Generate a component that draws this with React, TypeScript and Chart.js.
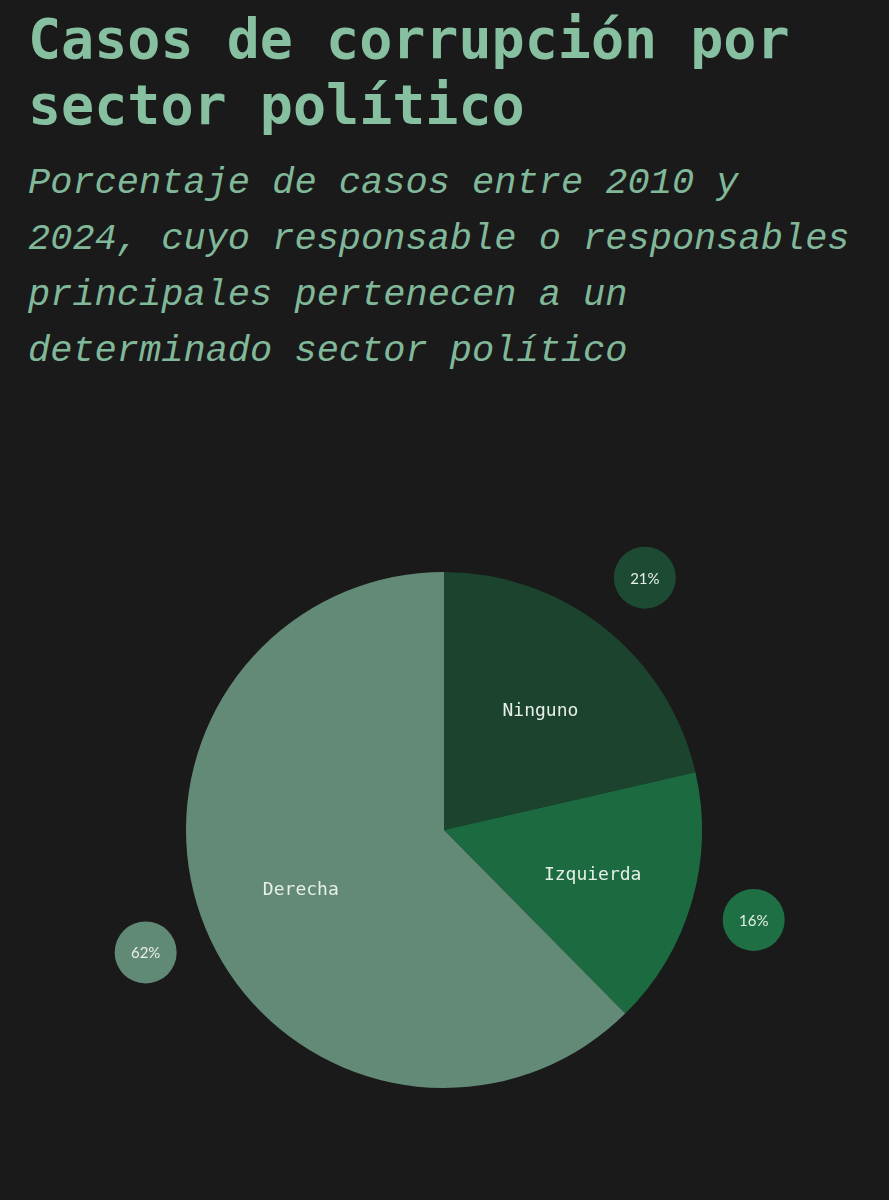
import React, { useEffect, useRef } from "react";
import { Chart, registerables } from "chart.js";

Chart.register(...registerables);

const categories = ["Ninguno", "Izquierda", "Derecha"];
const values = [21.4, 16.2, 62.4];
const sliceColors = ["#1c432e", "#1c6a40", "#628a77"];
const bubbleColors = ["#1c4a33", "#1e7044", "#618a76"];

const BG = "#1a1a1a";
const TITLE_COLOR = "#86c0a0";

const labelPlugin = {
  id: "sliceLabels",
  afterDatasetsDraw(chart: any) {
    const ctx = chart.ctx;
    const meta = chart.getDatasetMeta(0);
    meta.data.forEach((arc: any, i: number) => {
      const { x, y, startAngle, endAngle, outerRadius } = arc.getProps(
        ["x", "y", "startAngle", "endAngle", "outerRadius"],
        true
      );
      const mid = (startAngle + endAngle) / 2;
      const lx = x + Math.cos(mid) * outerRadius * 0.6;
      const ly = y + Math.sin(mid) * outerRadius * 0.6;
      ctx.save();
      ctx.fillStyle = "#e6efe8";
      ctx.font = "18px 'DejaVu Sans Mono', monospace";
      ctx.textAlign = "center";
      ctx.textBaseline = "middle";
      ctx.fillText(categories[i], lx, ly + 2);
      const bx = x + Math.cos(mid) * outerRadius * 1.25;
      const by = y + Math.sin(mid) * outerRadius * 1.25;
      ctx.beginPath();
      ctx.arc(bx, by, 31, 0, Math.PI * 2);
      ctx.fillStyle = bubbleColors[i];
      ctx.fill();
      ctx.fillStyle = "#e6efe8";
      ctx.font = "15px Lato, 'Noto Sans', sans-serif";
      ctx.fillText(Math.round(values[i]) + "%", bx, by + 1);
      ctx.restore();
    });
  },
};

export default function App() {
  const canvasRef = useRef<HTMLCanvasElement | null>(null);

  useEffect(() => {
    document.body.style.margin = "0";
    document.body.style.background = BG;
    const chart = new Chart(canvasRef.current as HTMLCanvasElement, {
      type: "pie",
      data: {
        labels: categories,
        datasets: [
          {
            data: values,
            backgroundColor: sliceColors,
            borderWidth: 0,
          },
        ],
      },
      options: {
        animation: false,
        responsive: false,
        maintainAspectRatio: false,
        layout: { padding: { left: 186, right: 187, top: 132, bottom: 112 } },
        plugins: {
          legend: { display: false },
          tooltip: { enabled: false },
        },
      },
      plugins: [labelPlugin],
    });
    return () => chart.destroy();
  }, []);

  return (
    <div
      style={{
        position: "relative",
        width: 889,
        height: 1200,
        background: BG,
        overflow: "hidden",
      }}
    >
      <div
        style={{
          position: "absolute",
          left: 28,
          top: 6,
          fontFamily: "'DejaVu Sans Mono', monospace",
          fontWeight: "bold",
          fontSize: 55,
          lineHeight: "66px",
          color: TITLE_COLOR,
          whiteSpace: "pre",
        }}
      >
        {"Casos de corrupción por\nsector político"}
      </div>
      <div
        style={{
          position: "absolute",
          left: 28,
          top: 155,
          fontFamily: "'Liberation Mono', 'DejaVu Sans Mono', monospace",
          fontStyle: "italic",
          fontSize: 37,
          lineHeight: "56px",
          color: "#80b899",
          whiteSpace: "pre",
        }}
      >
        {
          "Porcentaje de casos entre 2010 y\n2024, cuyo responsable o responsables\nprincipales pertenecen a un\ndeterminado sector político"
        }
      </div>
      <canvas
        ref={canvasRef}
        width={889}
        height={760}
        style={{ position: "absolute", left: 0, top: 440, width: 889, height: 760 }}
      />
    </div>
  );
}
